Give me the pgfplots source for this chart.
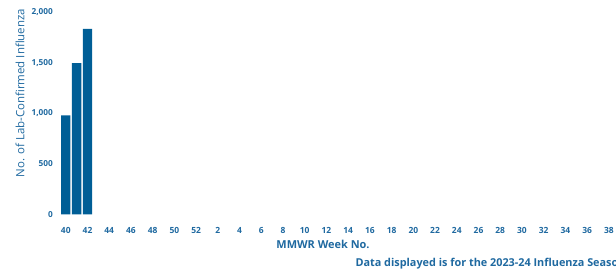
\documentclass[border=0pt]{standalone}
\usepackage{pgfplots}
\pgfplotsset{compat=1.18}
\usepackage{fontspec}
\setmainfont{Open Sans}
\definecolor{txt}{RGB}{31,105,160}
\definecolor{barc}{RGB}{0,94,150}
\begin{document}
\begin{tikzpicture}[x=1bp,y=1bp]
\begin{scope}
\clip (0,0) rectangle (616,272);
\begin{axis}[
  at={(55.57,57)}, anchor=south west,
  scale only axis, width=553.9bp, height=202bp,
  xmin=-0.5, xmax=50.5, ymin=0, ymax=2000,
  axis line style={draw=none},
  major tick length=0pt,
  xtick={0,2,...,50},
  xticklabels={40,42,44,46,48,50,52,2,4,6,8,10,12,14,16,18,20,22,24,26,28,30,32,34,36,38},
  ytick={0,500,1000,1500,2000},
  /pgf/number format/.cd, 1000 sep={,}, assume math mode=true, /pgfplots/.cd,
  xticklabel style={font=\fontsize{8.5}{10}\selectfont\bfseries, text=txt, anchor=north, text height=6.2bp, text depth=0pt, yshift=-9bp},
  yticklabel style={font=\fontsize{8.3}{9}\selectfont\bfseries, text=txt, xshift=-4bp},
  scaled y ticks=false,
  clip=false,
]
\addplot[ybar, bar width=9.4bp, fill=barc, draw=none] coordinates {(0,980) (1,1498) (2,1838)};
\end{axis}
\node[rotate=90, text=txt, font=\fontsize{11.5}{13}\selectfont] at (20,179) {No. of Lab-Confirmed Influenza};
\node[text=txt, font=\fontsize{11}{13}\selectfont\bfseries] at (323,28) {MMWR Week No.};
\node[text=txt, font=\fontsize{10.9}{13}\selectfont\bfseries, anchor=west] at (352,8) {Data displayed is for the 2023-24 Influenza Season};
\end{scope}
\pgfresetboundingbox
\useasboundingbox (0,0) rectangle (616,272);
\end{tikzpicture}
\end{document}
